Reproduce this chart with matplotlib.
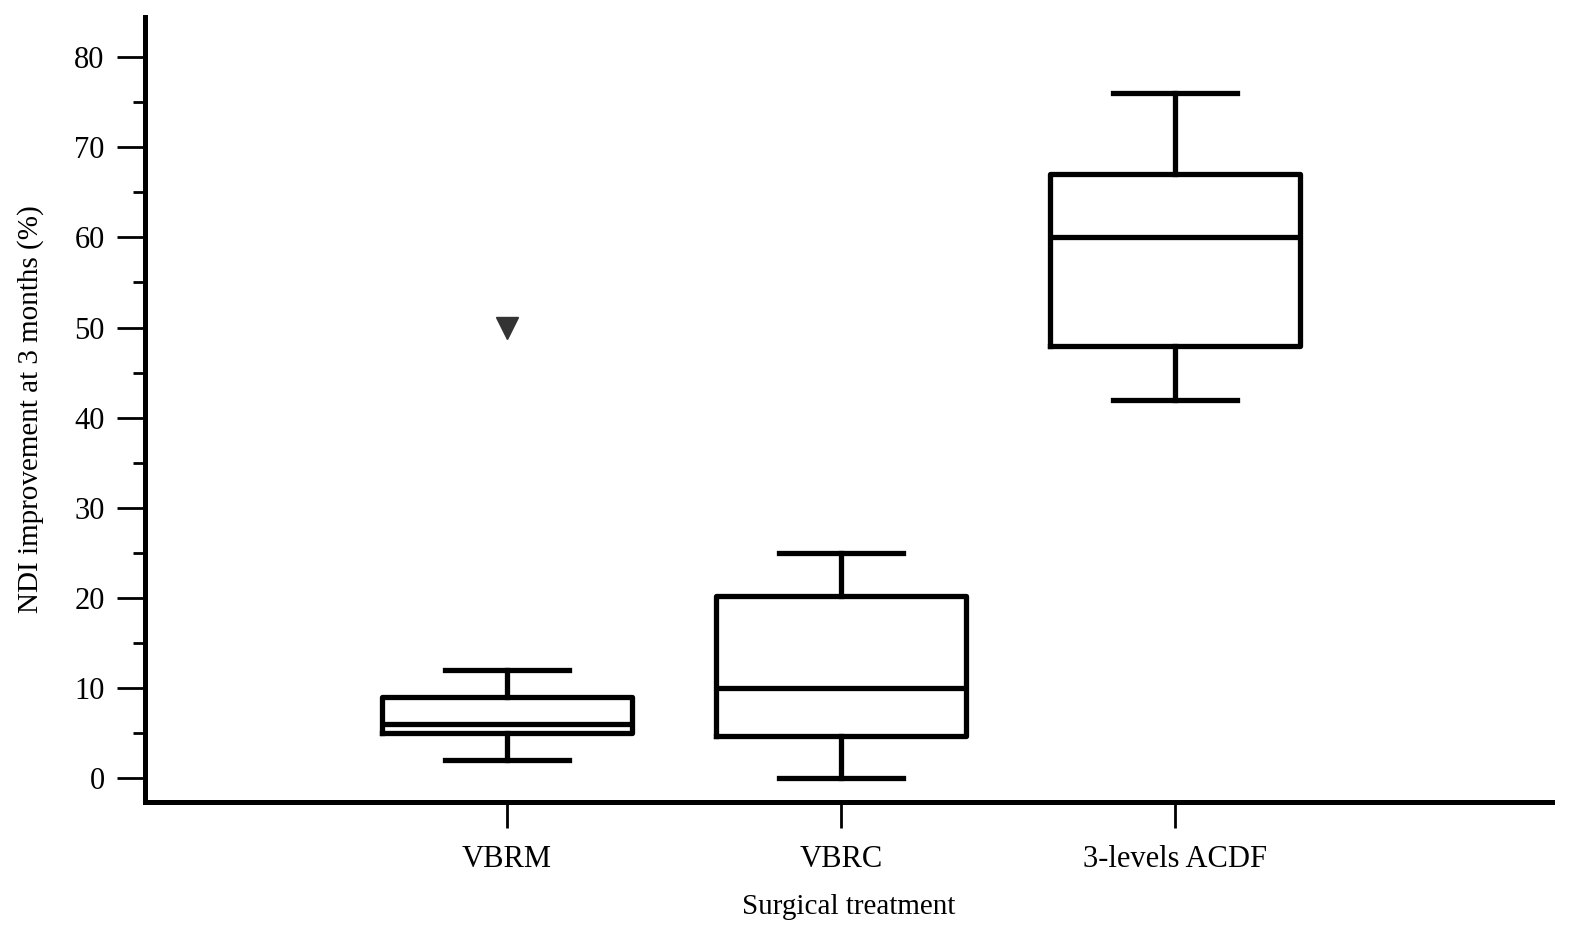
import matplotlib
matplotlib.use("Agg")
import matplotlib.pyplot as plt
from matplotlib.ticker import MultipleLocator

groups = ["VBRM", "VBRC", "3-levels ACDF"]
whislo = [2, 0, 42]
q1 = [5, 4.7, 48]
med = [6, 10, 60]
q3 = [9, 20.2, 67]
whishi = [12, 25, 76]
fliers = [[50], [], []]

plt.rcParams["font.family"] = ["Liberation Serif", "DejaVu Serif"]

stats = []
for i, g in enumerate(groups):
    stats.append({"label": g, "whislo": whislo[i], "q1": q1[i], "med": med[i],
                  "q3": q3[i], "whishi": whishi[i], "fliers": fliers[i]})

fig = plt.figure(figsize=(15.84, 9.44), dpi=100)
ax = fig.add_axes([0.0915, 0.1504, 0.8883, 0.8316])

lw = 3.8
ax.bxp(stats, positions=[1, 2, 3], widths=0.75, capwidths=0.37,
       boxprops=dict(color="black", linewidth=lw),
       medianprops=dict(color="black", linewidth=lw),
       whiskerprops=dict(color="black", linewidth=lw),
       capprops=dict(color="black", linewidth=lw),
       flierprops=dict(marker="v", markerfacecolor="#333333", markeredgecolor="#333333",
                       markersize=16))

ax.set_xlim(-0.084, 4.129)
ax.set_ylim(-2.66, 84.46)
ax.yaxis.set_major_locator(MultipleLocator(10))
ax.yaxis.set_minor_locator(MultipleLocator(5))

for s in ["top", "right"]:
    ax.spines[s].set_visible(False)
for s in ["left", "bottom"]:
    ax.spines[s].set_linewidth(3.6)

ax.tick_params(axis="y", which="major", length=20, width=2, labelsize=22, pad=9)
ax.tick_params(axis="y", which="minor", length=9, width=2)
ax.tick_params(axis="x", which="major", length=19, width=2, labelsize=22, pad=12)

ax.set_xlabel("Surgical treatment", fontsize=21, labelpad=14)
ax.set_ylabel("NDI improvement at 3 months (%)", fontsize=21, labelpad=22)

fig.savefig("out.png", dpi=100)
